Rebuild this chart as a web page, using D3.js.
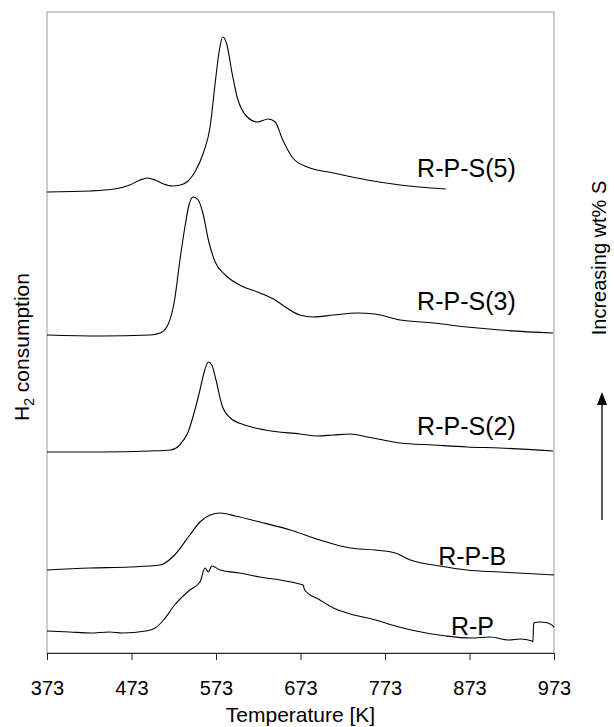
<!DOCTYPE html>
<html>
<head>
<meta charset="utf-8">
<script src="https://cdn.jsdelivr.net/npm/d3@7"></script>
<style>
  body { margin: 0; background: #fff; }
  svg { font-family: "Liberation Sans", Arial, sans-serif; }
</style>
</head>
<body>
<svg id="chart" width="614" height="727"></svg>
<script>
// x ticks (K)
const tickTemps = [373, 473, 573, 673, 773, 873, 973];

// H2 consumption traces, arbitrary units (stacked offsets as in the figure)
const tRPS5 = [373, 424, 453, 471, 483, 492, 501, 511, 521, 531, 540, 548, 558, 566, 572, 577, 581, 586, 592, 598, 610, 622, 635, 643, 652, 664, 681, 712, 752, 791, 845];
const sRPS5 = [461, 462, 464, 468, 473, 475, 473, 469, 467, 468, 472, 481, 500, 526, 570, 603, 616, 608, 580, 556, 536, 531, 534, 531, 513, 495, 486, 480, 473, 468, 464];

const tRPS3 = [373, 436, 495, 507, 516, 524, 530, 536, 541, 546, 552, 558, 564, 572, 584, 601, 625, 643, 655, 672, 688, 712, 740, 761, 791, 830, 870, 909, 972];
const sRPS3 = [318, 317, 318, 320, 328, 353, 391, 425, 448, 456, 453, 438, 413, 391, 378, 368, 360, 353, 346, 338, 336, 338, 340, 339, 333, 330, 326, 323, 320];

const tRPS2 = [373, 436, 495, 519, 530, 540, 548, 554, 559, 564, 568, 573, 580, 590, 607, 631, 672, 693, 712, 732, 752, 771, 791, 830, 870, 909, 972];
const sRPS2 = [201, 201, 202, 203, 208, 221, 243, 263, 281, 291, 288, 273, 248, 235, 228, 223, 219, 217, 218, 219, 216, 213, 210, 208, 206, 205, 202];

const tRPB = [373, 424, 471, 507, 524, 542, 554, 566, 578, 596, 625, 661, 696, 732, 761, 785, 803, 838, 870, 909, 973];
const sRPB = [83, 85, 86, 88, 98, 118, 131, 138, 140, 137, 131, 123, 113, 105, 103, 100, 93, 87, 83, 81, 78];

const tRP = [373, 400, 424, 447, 462, 490, 501, 511, 524, 542, 554, 560, 564, 568, 578, 601, 625, 649, 672, 676, 678, 696, 712, 732, 762, 781, 804, 845, 874, 897, 920, 933, 947, 948, 949, 956, 966, 973];
const sRP = [22, 21, 20, 21, 20, 22, 25, 33, 48, 63, 71, 85, 81, 87, 83, 80, 76, 73, 69, 68, 63, 53, 45, 39, 33, 28, 23, 17, 15, 16, 13, 14, 12, 11, 30, 31, 30, 26];

const seriesNames = ["R-P-S(5)", "R-P-S(3)", "R-P-S(2)", "R-P-B", "R-P"];
const seriesT = [tRPS5, tRPS3, tRPS2, tRPB, tRP];
const seriesS = [sRPS5, sRPS3, sRPS2, sRPB, sRP];
// label anchor (temperature, signal) for each trace name
const labelT = [811, 811, 811, 836, 851];
const labelS = [476, 343, 218, 88, 18];

const svg = d3.select("#chart");

const x = d3.scaleLinear().domain([373, 973]).range([47, 554]);
const y = d3.scaleLinear().domain([0, 641]).range([653, 12]);

// frame
svg.append("rect")
  .attr("x", x(373))
  .attr("y", y(641))
  .attr("width", x(973) - x(373))
  .attr("height", y(0) - y(641))
  .attr("fill", "none")
  .attr("stroke", "#9a9a9a")
  .attr("stroke-width", 1);

// x axis
const xAxis = d3.axisBottom(x)
  .tickValues(tickTemps)
  .tickFormat(d3.format("d"))
  .tickSize(7)
  .tickSizeOuter(0)
  .tickPadding(35);

const gx = svg.append("g")
  .attr("transform", `translate(0, ${y(0)})`)
  .call(xAxis);
gx.select(".domain").attr("stroke", "#222");
gx.selectAll(".tick line").attr("stroke", "#222");
gx.selectAll("text")
  .attr("fill", "#000")
  .style("font-size", "20px")
  .attr("dy", "0");

svg.append("text")
  .attr("x", (x(373) + x(973)) / 2)
  .attr("y", 722)
  .attr("text-anchor", "middle")
  .style("font-size", "21px")
  .text("Temperature [K]");

// y label
const yl = svg.append("text")
  .attr("transform", "translate(29, 347) rotate(-90)")
  .attr("text-anchor", "middle")
  .style("font-size", "21px");
yl.append("tspan").text("H");
yl.append("tspan").attr("dy", 5).style("font-size", "14px").text("2");
yl.append("tspan").attr("dy", -5).text(" consumption");

// traces
const line = d3.line()
  .x((d) => x(d[0]))
  .y((d) => y(d[1]))
  .curve(d3.curveMonotoneX);

seriesT.forEach((ts, i) => {
  const pts = ts.map((t, j) => [t, seriesS[i][j]]);
  svg.append("path")
    .datum(pts)
    .attr("fill", "none")
    .attr("stroke", "#000")
    .attr("stroke-width", 1.1)
    .attr("d", line);

  svg.append("text")
    .attr("x", x(labelT[i]))
    .attr("y", y(labelS[i]))
    .style("font-size", "25px")
    .text(seriesNames[i]);
});

// right-hand annotation with arrow
svg.append("text")
  .attr("transform", "translate(606, 258) rotate(-90)")
  .attr("text-anchor", "middle")
  .style("font-size", "20px")
  .text("Increasing wt% S");

svg.append("line")
  .attr("x1", 602).attr("x2", 602)
  .attr("y1", 520).attr("y2", 400)
  .attr("stroke", "#000")
  .attr("stroke-width", 1.3);
svg.append("path")
  .attr("d", "M602,392 L597,405 L607,405 Z")
  .attr("fill", "#000");
</script>
</body>
</html>
